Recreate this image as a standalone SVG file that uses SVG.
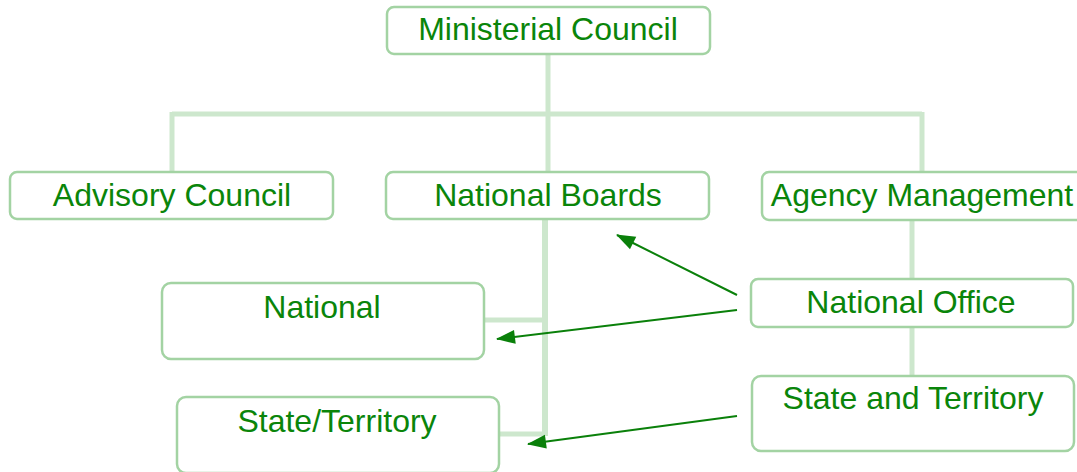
<svg xmlns="http://www.w3.org/2000/svg" width="1077" height="472" viewBox="0 0 1077 472">
<style>
.box{fill:#ffffff;stroke:#a3d3a3;stroke-width:2.5}
.lbl{font-family:"Liberation Sans",Arial,sans-serif;font-size:32px;fill:#0a850a;text-anchor:middle}
.tree{fill:none;stroke:#cde7cd;stroke-width:5}
.arr{fill:none;stroke:#0a800a;stroke-width:2;marker-end:url(#ah)}
</style>
<defs>
<marker id="ah" viewBox="0 0 10 10" refX="9" refY="5" markerWidth="10" markerHeight="10" markerUnits="userSpaceOnUse" orient="auto" overflow="visible">
<path d="M-9,-2 L10,5 L-9,12 Z" fill="#0a800a"/>
</marker>
</defs>
<g id="connectors">
<path class="tree" d="M548,54 V172"/>
<path class="tree" d="M172,114 H922"/>
<path class="tree" d="M172,112 V172"/>
<path class="tree" d="M922,112 V172"/>
<path class="tree" d="M912,220 V279"/>
<path class="tree" d="M912,327 V376"/>
<path class="tree" d="M545,219 V436" style="stroke-width:6"/>
<path class="tree" d="M484,320 H548"/>
<path class="tree" d="M496,434 H545"/>
<path class="arr" d="M737,295 L617,235"/>
<path class="arr" d="M737,310 L497,339"/>
<path class="arr" d="M737,416 L528,444"/>
</g>
<g id="ministerial-council">
<rect class="box" x="387" y="7" width="323" height="47" rx="7"/>
<text class="lbl" x="548" y="40">Ministerial Council</text>
</g>
<g id="advisory-council">
<rect class="box" x="10" y="172" width="323" height="47" rx="7"/>
<text class="lbl" x="172" y="206">Advisory Council</text>
</g>
<g id="national-boards">
<rect class="box" x="386" y="172" width="323" height="47" rx="7"/>
<text class="lbl" x="548" y="206">National Boards</text>
</g>
<g id="agency-management">
<rect class="box" x="762" y="172" width="340" height="48" rx="7"/>
<text class="lbl" x="922" y="206">Agency Management</text>
</g>
<g id="national-office">
<rect class="box" x="751" y="279" width="322" height="48" rx="7"/>
<text class="lbl" x="911" y="313">National Office</text>
</g>
<g id="state-and-territory">
<rect class="box" x="752" y="376" width="322" height="75" rx="9"/>
<text class="lbl" x="913" y="409">State and Territory</text>
</g>
<g id="national">
<rect class="box" x="162" y="283" width="322" height="76" rx="9"/>
<text class="lbl" x="322" y="318">National</text>
</g>
<g id="state-territory">
<rect class="box" x="177" y="397" width="322" height="76" rx="9"/>
<text class="lbl" x="337" y="432">State/Territory</text>
</g>
</svg>
